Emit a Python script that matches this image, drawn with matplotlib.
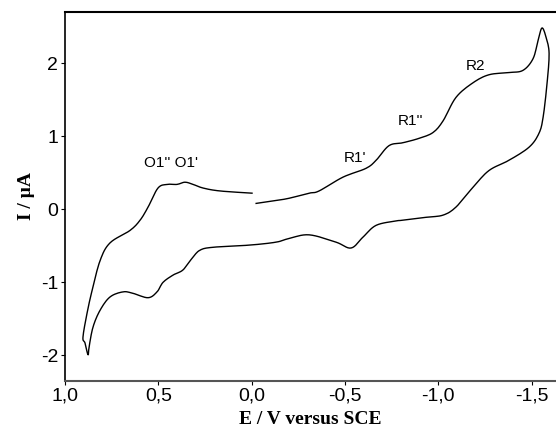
import numpy as np
import matplotlib
matplotlib.use("Agg")
import matplotlib.pyplot as plt
from matplotlib.ticker import FuncFormatter

plt.rcParams['axes.unicode_minus'] = False

# potential (V vs SCE) and current (uA), one sweep starting at 0 V
E = [-0.024, -0.131, -0.200, -0.308, -0.361, -0.490, -0.613, -0.667, -0.736, -0.811,
     -0.897, -0.972, -1.026, -1.095, -1.186, -1.272, -1.379, -1.454, -1.508, -1.535,
     -1.556, -1.578, -1.594, -1.583, -1.562, -1.540, -1.487, -1.379, -1.272, -1.186,
     -1.095, -1.026, -0.935, -0.811, -0.774, -0.667, -0.597, -0.533, -0.452, -0.308,
     -0.200, -0.131, 0.009, 0.207, 0.277, 0.319, 0.368, 0.421, 0.475, 0.507,
     0.555, 0.636, 0.689, 0.759, 0.812, 0.850, 0.871, 0.877, 0.893, 0.904,
     0.882, 0.855, 0.812, 0.759, 0.652, 0.598, 0.555, 0.502, 0.453, 0.400,
     0.357, 0.314, 0.260, 0.169, -0.002]
I = [0.08, 0.12, 0.15, 0.22, 0.25, 0.44, 0.56, 0.67, 0.87, 0.91,
     0.97, 1.05, 1.21, 1.53, 1.73, 1.84, 1.87, 1.90, 2.06, 2.31,
     2.48, 2.35, 2.13, 1.72, 1.26, 1.04, 0.85, 0.67, 0.53, 0.30,
     0.03, -0.08, -0.11, -0.15, -0.16, -0.22, -0.38, -0.53, -0.45, -0.35,
     -0.40, -0.45, -0.49, -0.52, -0.56, -0.67, -0.83, -0.90, -1.00, -1.13,
     -1.21, -1.15, -1.13, -1.20, -1.38, -1.61, -1.88, -1.99, -1.83, -1.75,
     -1.42, -1.11, -0.70, -0.46, -0.29, -0.15, 0.03, 0.29, 0.34, 0.34,
     0.37, 0.34, 0.29, 0.25, 0.22]

peak_labels = ["O1'' O1'", "R1'", "R1''", "R2"]
peak_E = [0.43, -0.554, -0.849, -1.197]
peak_I = [0.63, 0.70, 1.21, 1.96]


def smooth(x, y, n=8):
    # catmull-rom curve through the read points, just for drawing
    p = np.column_stack([x, y])
    p = np.vstack([p[0], p, p[-1]])
    out = []
    t = np.linspace(0, 1, n, endpoint=False)[:, None]
    for i in range(1, len(p) - 2):
        p0, p1, p2, p3 = p[i - 1], p[i], p[i + 1], p[i + 2]
        seg = 0.5 * ((2 * p1) + (-p0 + p2) * t
                     + (2 * p0 - 5 * p1 + 4 * p2 - p3) * t ** 2
                     + (-p0 + 3 * p1 - 3 * p2 + p3) * t ** 3)
        out.append(seg)
    out.append(p[-2][None, :])
    out = np.vstack(out)
    return out[:, 0], out[:, 1]


fig = plt.figure(figsize=(5.56, 4.4), dpi=100)
ax = fig.add_axes([0.117, 0.134, 0.883, 0.839])
xs, ys = smooth(E, I)
ax.plot(xs, ys, color='black', lw=1.0)

for lab, x, y in zip(peak_labels, peak_E, peak_I):
    ax.text(x, y, lab, ha='center', va='center', fontsize=11, family='Liberation Sans')

ax.set_xlim(1.0, -1.631)
ax.set_ylim(-2.35, 2.70)
ax.set_xticks([1.0, 0.5, 0.0, -0.5, -1.0, -1.5])
ax.set_yticks([2, 1, 0, -1, -2])
ax.xaxis.set_major_formatter(FuncFormatter(lambda v, p: f"{v:.1f}".replace('.', ',')))
ax.yaxis.set_major_formatter(FuncFormatter(lambda v, p: f"{int(round(v))}"))
for t in ax.get_xticklabels() + ax.get_yticklabels():
    t.set_family('Liberation Sans')
    t.set_fontsize(14)
ax.tick_params(length=3, width=0.8, pad=2)

ax.spines['right'].set_visible(False)
ax.spines['top'].set_linewidth(1.5)
ax.spines['left'].set_linewidth(1.2)
ax.spines['bottom'].set_linewidth(1.5)
ax.spines['bottom'].set_color('#555555')

ax.set_xlabel('E / V versus SCE', family='Liberation Serif', fontweight='bold', fontsize=14, labelpad=4)
ax.set_ylabel('I / µA', family='Liberation Serif', fontweight='bold', fontsize=14, labelpad=4)

fig.savefig('out.png', dpi=100)
